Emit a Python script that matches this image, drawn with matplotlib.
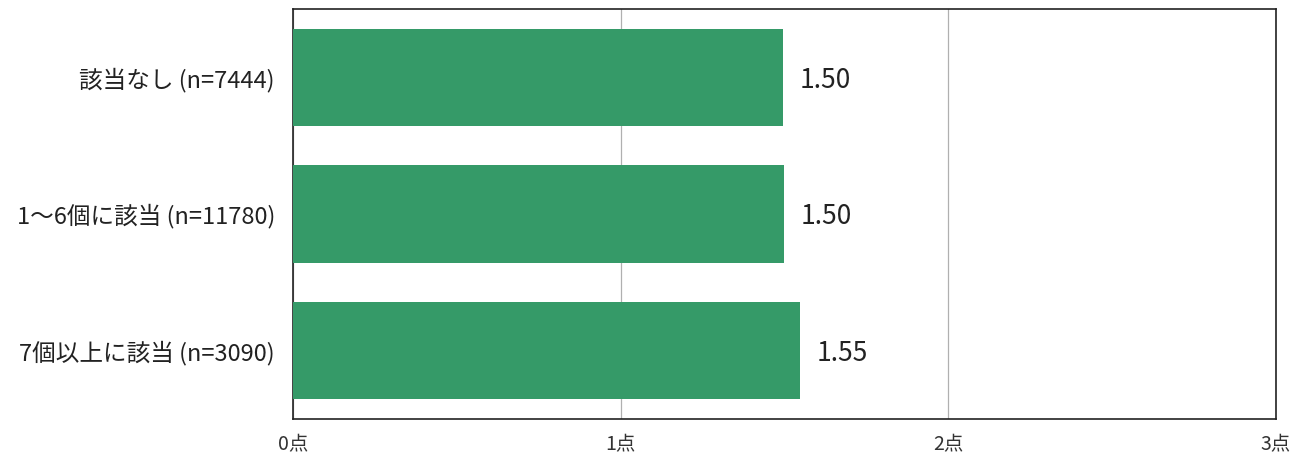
import matplotlib
matplotlib.use("Agg")
import matplotlib.pyplot as plt

plt.rcParams['font.family'] = ['Noto Sans CJK JP', 'DejaVu Sans']

categories = ["該当なし (n=7444)", "1～6個に該当 (n=11780)", "7個以上に該当 (n=3090)"]
values = [1.496, 1.498, 1.547]
value_labels = ["1.50", "1.50", "1.55"]
xticks = [0, 1, 2, 3]
xtick_labels = ["0点", "1点", "2点", "3点"]

fig = plt.figure(figsize=(13.04, 4.59), dpi=100)
ax = fig.add_axes([293/1304, 1 - 419/459, (1276-293)/1304, (419-9)/459])

ypos = list(range(len(categories)))
ax.barh(ypos, values, height=0.71, color='#359a68', zorder=3)
for y, v, lab in zip(ypos, values, value_labels):
    ax.annotate(lab, xy=(v, y), xytext=(12, -2), textcoords='offset points',
                va='center', ha='left', fontsize=19, color='#222222')

ax.set_xlim(0, 3)
ax.set_ylim(2.5, -0.5)
ax.set_xticks(xticks)
ax.set_xticklabels(xtick_labels, fontsize=14, color='#333333')
ax.set_yticks(ypos)
ax.set_yticklabels(categories, fontsize=17, color='#222222')
ax.tick_params(axis='both', length=0)
ax.tick_params(axis='x', pad=11)
ax.tick_params(axis='y', pad=13)
ax.grid(axis='x', color='#b0b0b0', linewidth=0.9, zorder=0)
for s in ax.spines.values():
    s.set_color('#222222')
    s.set_linewidth(1.2)

fig.savefig('out.png', dpi=100)
